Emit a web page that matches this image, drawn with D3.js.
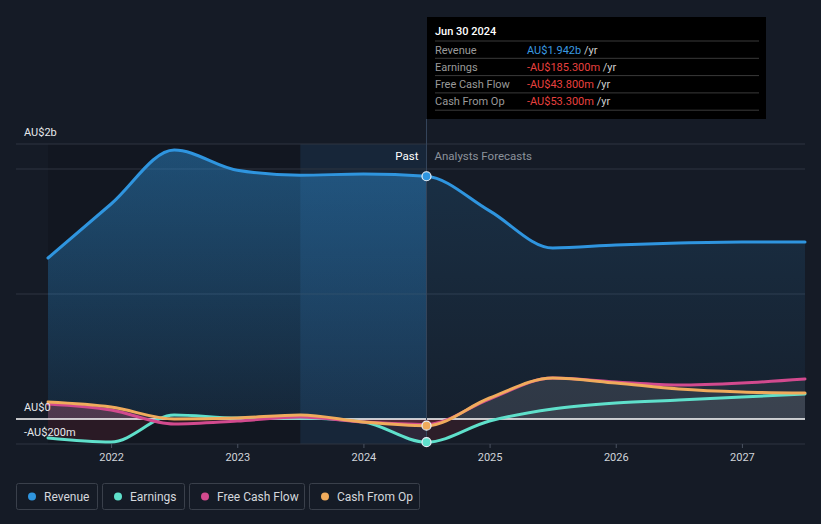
<!DOCTYPE html>
<html><head><meta charset="utf-8">
<script src="https://cdn.jsdelivr.net/npm/d3@7"></script>
<style>
html,body{margin:0;padding:0;background:#151b26;}
svg{display:block;font-family:Roboto,"Noto Sans",Arial,sans-serif;}
</style></head>
<body><svg id="c" width="821" height="524"></svg>
<script>
// ---- data (values in AU$ billions) ----
const years = [2021.5, 2022.0, 2022.5, 2023.0, 2023.5, 2024.0, 2024.5, 2025.0, 2025.5, 2026.0, 2026.5, 2027.0, 2027.5];
const revenue   = [1.288, 1.72, 2.152, 1.99, 1.95, 1.96, 1.942, 1.665, 1.368, 1.392, 1.408, 1.416, 1.416];
const earnings  = [-0.152, -0.184, 0.032, 0.008, 0.008, -0.024, -0.1853, -0.016, 0.08, 0.128, 0.152, 0.176, 0.2];
const freeCashFlow = [0.12, 0.072, -0.04, -0.016, 0.016, -0.024, -0.0438, 0.16, 0.328, 0.296, 0.272, 0.288, 0.32];
const cashFromOp   = [0.136, 0.096, 0.0, 0.008, 0.032, -0.024, -0.0533, 0.168, 0.328, 0.288, 0.24, 0.216, 0.208];
const xTicks = [2022, 2023, 2024, 2025, 2026, 2027];
const yLabels = [{v: 2.2, t: "AU$2b"}, {v: 0, t: "AU$0"}, {v: -0.2, t: "-AU$200m"}];
const gridVals = [2.2, 2.0, 1.0, -0.2];
const pastEnd = 2024.5, highlightStart = 2023.5;
const seriesNames = ["Revenue", "Earnings", "Free Cash Flow", "Cash From Op"];
const colors = ["#2f95df", "#5fe0cb", "#d24a8e", "#f0ab5c"];
const tipDate = "Jun 30 2024";
const tipValues = ["AU$1.942b", "-AU$185.300m", "-AU$43.800m", "-AU$53.300m"];

// ---- scales ----
const x = d3.scaleLinear().domain([2021.5, 2027.5]).range([48, 805]);
const y = d3.scaleLinear().domain([-0.2, 2.2]).range([444, 144]);
const svg = d3.select("#c");
const defs = svg.append("defs");

const g1 = defs.append("linearGradient").attr("id","revGrad").attr("x1",0).attr("y1",0).attr("x2",0).attr("y2",1);
g1.append("stop").attr("offset","0%").attr("stop-color","#2f95df").attr("stop-opacity",0.32);
g1.append("stop").attr("offset","100%").attr("stop-color","#2f95df").attr("stop-opacity",0.08);

defs.append("clipPath").attr("id","above").append("rect").attr("x",0).attr("y",0).attr("width",821).attr("height",y(0));
defs.append("clipPath").attr("id","below").append("rect").attr("x",0).attr("y",y(0)).attr("width",821).attr("height",100);
defs.append("clipPath").attr("id","pastClip").append("rect").attr("x",x(2021.5)).attr("y",0).attr("width",x(pastEnd)-x(2021.5)).attr("height",524);

// background bands
svg.append("rect").attr("x",x(2021.5)).attr("y",y(2.2)).attr("width",x(highlightStart)-x(2021.5)).attr("height",y(-0.2)-y(2.2)).attr("fill","#000").attr("opacity",0.12);
svg.append("rect").attr("x",x(highlightStart)).attr("y",y(2.2)).attr("width",x(pastEnd)-x(highlightStart)).attr("height",y(-0.2)-y(2.2)).attr("fill","#2a7fc8").attr("opacity",0.12);

// grid
svg.selectAll(".grid").data(gridVals).enter().append("line")
  .attr("x1",16).attr("x2",805).attr("y1",d=>y(d)).attr("y2",d=>y(d))
  .attr("stroke","#2e3541").attr("stroke-width",1);

const pts = arr => years.map((yr,i)=>[yr, arr[i]]);
const line = d3.line().x(d=>x(d[0])).y(d=>y(d[1])).curve(d3.curveMonotoneX);
const area = d3.area().x(d=>x(d[0])).y0(y(0)).y1(d=>y(d[1])).curve(d3.curveMonotoneX);

// revenue area
svg.append("path").attr("d",area(pts(revenue))).attr("fill","url(#revGrad)").attr("opacity",0.55);
svg.append("path").attr("d",area(pts(revenue))).attr("fill","url(#revGrad)").attr("clip-path","url(#pastClip)");

// small series areas
[earnings, freeCashFlow, cashFromOp].forEach((arr,k)=>{
  svg.append("path").attr("d",area(pts(arr))).attr("fill", "#9aa0aa").attr("opacity",0.1).attr("clip-path","url(#above)");
  svg.append("path").attr("d",area(pts(arr))).attr("fill", "#c03040").attr("opacity",0.14).attr("clip-path","url(#below)");
});
const pastG = svg.append("g").attr("clip-path","url(#pastClip)");
[freeCashFlow, cashFromOp].forEach(arr=>{
  pastG.append("path").attr("d",area(pts(arr))).attr("fill","#c03050").attr("opacity",0.12).attr("clip-path","url(#above)");
});

// zero line
svg.append("line").attr("x1",16).attr("x2",805).attr("y1",y(0)).attr("y2",y(0)).attr("stroke","#ffffff").attr("stroke-width",1.5);

// vertical marker line
svg.append("line").attr("x1",x(pastEnd)).attr("x2",x(pastEnd)).attr("y1",119).attr("y2",y(-0.2))
  .attr("stroke","#34445a").attr("stroke-width",1);

// lines
const order = [1, 2, 3, 0];
const allSeries = [revenue, earnings, freeCashFlow, cashFromOp];
order.forEach(k=>{
  svg.append("path").attr("d",line(pts(allSeries[k]))).attr("fill","none")
    .attr("stroke",colors[k]).attr("stroke-width",3).attr("stroke-linecap","round");
});

// markers at past end
const idx = years.indexOf(pastEnd);
[1,3,0].forEach(k=>{
  svg.append("circle").attr("cx",x(pastEnd)).attr("cy",y(allSeries[k][idx])).attr("r",4.5)
    .attr("fill",colors[k]).attr("stroke","#e8f0f8").attr("stroke-width",1.2);
});

// y labels
svg.selectAll(".yl").data(yLabels).enter().append("text")
  .attr("x",24).attr("y",d=>y(d.v)-8).attr("fill","#e6e8eb").attr("font-size",11).text(d=>d.t);

// x axis
const xa = svg.append("g").attr("transform",`translate(0,${y(-0.2)})`)
  .call(d3.axisBottom(x).tickValues(xTicks).tickFormat(d3.format("d")).tickSize(4).tickPadding(5));
xa.select(".domain").remove();
xa.selectAll("line").attr("stroke","#4a5260");
xa.selectAll("text").attr("fill","#d0d4da").attr("font-size",11).attr("font-family","Roboto,sans-serif");

// Past / Forecast labels
svg.append("text").attr("x",x(pastEnd)-8).attr("y",160).attr("text-anchor","end").attr("fill","#ffffff").attr("font-size",11.5).text("Past");
svg.append("text").attr("x",x(pastEnd)+8).attr("y",160).attr("fill","#8c929b").attr("font-size",11.5).text("Analysts Forecasts");

// tooltip
const tip = svg.append("g");
tip.append("rect").attr("x",427).attr("y",17).attr("width",339).attr("height",102).attr("fill","#000");
tip.append("text").attr("x",435).attr("y",35).attr("fill","#fff").attr("font-size",11).attr("font-weight",500).text(tipDate);
seriesNames.forEach((n,i)=>{
  const ry = 41 + i*17.3;
  tip.append("line").attr("x1",435).attr("x2",759).attr("y1",ry).attr("y2",ry).attr("stroke","#3a3a3a").attr("stroke-width",1);
  tip.append("text").attr("x",435).attr("y",ry+12.5).attr("fill","#9a9a9a").attr("font-size",11).text(n);
  const t = tip.append("text").attr("x",527).attr("y",ry+12.5).attr("font-size",11);
  t.append("tspan").attr("fill", i===0 ? "#3a9ae0" : "#e8413f").text(tipValues[i]);
  t.append("tspan").attr("fill","#cfcfcf").text(" /yr");
});
tip.append("line").attr("x1",435).attr("x2",759).attr("y1",41+4*17.3).attr("y2",41+4*17.3).attr("stroke","#3a3a3a");

// legend
const legW = [81, 82, 115, 110];
let lx = 16;
seriesNames.forEach((n,i)=>{
  const lg = svg.append("g").attr("transform",`translate(${lx},483)`);
  lg.append("rect").attr("x",0.5).attr("y",0.5).attr("width",legW[i]).attr("height",26).attr("rx",2)
    .attr("fill","none").attr("stroke","#3a404b");
  lg.append("circle").attr("cx",16).attr("cy",13.5).attr("r",4).attr("fill",colors[i]);
  lg.append("text").attr("x",28).attr("y",17.5).attr("fill","#d4d7dc").attr("font-size",12).text(n);
  lx += legW[i] + 5;
});
</script></body></html>
